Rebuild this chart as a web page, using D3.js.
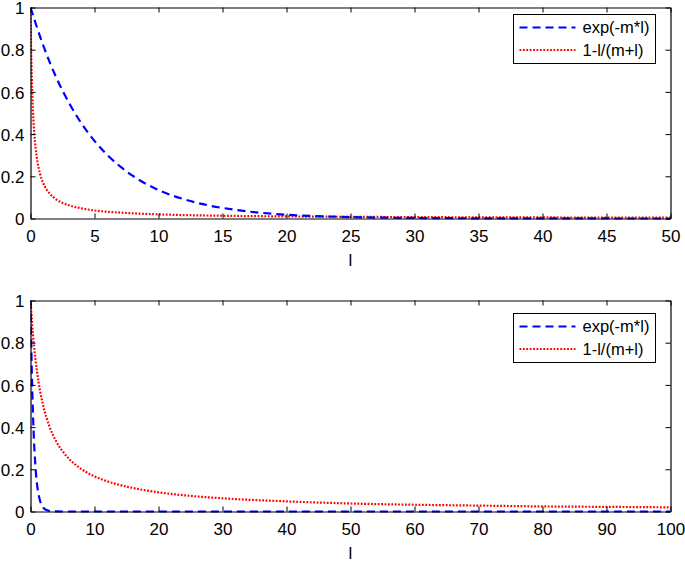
<!DOCTYPE html>
<html>
<head>
<meta charset="utf-8">
<script src="https://cdn.jsdelivr.net/npm/d3@7"></script>
<style>
  html, body { margin: 0; padding: 0; background: #fff; }
  svg { display: block; font-family: "Liberation Sans", Arial, Helvetica, sans-serif; }
</style>
</head>
<body>
<svg id="chart" width="685" height="564"></svg>
<script>
// ---------- Data ----------
const seriesNames = ["exp(-m*l)", "1-l/(m+l)"];

// Top panel (l from 0 to 50)
const topExpL = [0, 1, 2, 3, 4, 5, 6, 7, 8, 9, 10, 12, 14, 16, 18, 20, 25, 30, 35, 40, 50];
const topExpV = [1, 0.819, 0.670, 0.549, 0.449, 0.368, 0.301, 0.247, 0.202, 0.165, 0.135, 0.091, 0.061, 0.041, 0.027, 0.018, 0.0067, 0.0025, 0.0009, 0.0003, 0.00005];
const topRatL = [0, 0.05, 0.1, 0.2, 0.3, 0.5, 0.75, 1, 1.5, 2, 3, 4, 5, 7, 10, 15, 20, 30, 40, 50];
const topRatV = [1, 0.8, 0.667, 0.5, 0.4, 0.286, 0.211, 0.167, 0.118, 0.091, 0.0625, 0.048, 0.038, 0.028, 0.0196, 0.013, 0.0099, 0.0066, 0.005, 0.004];

// Bottom panel (l from 0 to 100)
const botExpL = [0, 0.1, 0.2, 0.3, 0.5, 0.75, 1, 1.25, 1.5, 2, 2.5, 3, 4, 5, 100];
const botExpV = [1, 0.819, 0.670, 0.549, 0.368, 0.223, 0.135, 0.082, 0.050, 0.018, 0.0067, 0.0025, 0.0003, 0, 0];
const botRatL = [0, 0.25, 0.5, 1, 1.5, 2, 3, 4, 5, 6, 8, 10, 12, 15, 20, 25, 30, 40, 50, 60, 70, 80, 90, 100];
const botRatV = [1, 0.889, 0.8, 0.667, 0.571, 0.5, 0.4, 0.333, 0.286, 0.25, 0.2, 0.167, 0.143, 0.118, 0.091, 0.074, 0.0625, 0.048, 0.038, 0.032, 0.028, 0.024, 0.022, 0.0196];

const topXTicks = [0, 5, 10, 15, 20, 25, 30, 35, 40, 45, 50];
const botXTicks = [0, 10, 20, 30, 40, 50, 60, 70, 80, 90, 100];
const yTicks = [0, 0.2, 0.4, 0.6, 0.8, 1];
const xLabel = "l";

// ---------- Drawing ----------
const svg = d3.select("#chart");
const FS = 17;

function panel(cfg) {
  const g = svg.append("g");
  const x = d3.scaleLinear().domain(cfg.xDomain).range([cfg.left, cfg.right]);
  const y = d3.scaleLinear().domain([0, 1]).range([cfg.bottom, cfg.top]);

  const line = d3.line().x(d => x(d[0])).y(d => y(d[1])).curve(d3.curveMonotoneX);
  const clipId = "clip" + cfg.id;
  svg.append("clipPath").attr("id", clipId).append("rect")
    .attr("x", cfg.left).attr("y", cfg.top - 2)
    .attr("width", cfg.right - cfg.left).attr("height", cfg.bottom - cfg.top + 4);

  const plot = g.append("g").attr("clip-path", `url(#${clipId})`);
  // red dotted
  plot.append("path")
    .datum(d3.zip(cfg.ratL, cfg.ratV))
    .attr("d", line).attr("fill", "none")
    .attr("stroke", "#ff0000").attr("stroke-width", 2.2)
    .attr("stroke-dasharray", "1.8,1.6");
  // blue dashed
  plot.append("path")
    .datum(d3.zip(cfg.expL, cfg.expV))
    .attr("d", line).attr("fill", "none")
    .attr("stroke", "#0000ff").attr("stroke-width", 2.2)
    .attr("stroke-dasharray", "8,5");

  // axes (box with inward ticks)
  const tl = 5;
  const axB = d3.axisBottom(x).tickValues(cfg.xTicks).tickSizeInner(-tl).tickSizeOuter(0).tickPadding(10);
  const gB = g.append("g").attr("transform", `translate(0,${cfg.bottom})`).call(axB);
  const axT = d3.axisTop(x).tickValues(cfg.xTicks).tickSizeInner(-tl).tickSizeOuter(0).tickFormat("");
  const gT = g.append("g").attr("transform", `translate(0,${cfg.top})`).call(axT);
  const axL = d3.axisLeft(y).tickValues(yTicks).tickSizeInner(-tl).tickSizeOuter(0).tickPadding(6)
    .tickFormat(d => d3.format("")(d));
  const gL = g.append("g").attr("transform", `translate(${cfg.left},0)`).call(axL);
  const axR = d3.axisRight(y).tickValues(yTicks).tickSizeInner(-tl).tickSizeOuter(0).tickFormat("");
  const gR = g.append("g").attr("transform", `translate(${cfg.right},0)`).call(axR);

  [gB, gT, gL, gR].forEach(a => {
    a.selectAll("path.domain").attr("stroke", "#000").attr("stroke-width", 1.2);
    a.selectAll(".tick line").attr("stroke", "#000").attr("stroke-width", 1);
    a.selectAll("text").attr("font-size", FS).attr("fill", "#000")
      .attr("font-family", "'Liberation Sans', Arial, sans-serif");
  });
  gB.selectAll(".tick text").attr("dy", null).attr("y", null)
    .attr("transform", `translate(0,${cfg.tickBaseline - cfg.bottom})`)
    .attr("dominant-baseline", "auto");
  gL.selectAll(".tick text").attr("x", -6).attr("dy", "0.36em");

  // x label
  g.append("text").attr("x", (cfg.left + cfg.right) / 2).attr("y", cfg.labelBaseline)
    .attr("text-anchor", "middle").attr("font-size", FS).text(xLabel);

  // legend
  const lg = g.append("g");
  lg.append("rect").attr("x", cfg.legX).attr("y", cfg.legY)
    .attr("width", 142).attr("height", 49)
    .attr("fill", "#fff").attr("stroke", "#000").attr("stroke-width", 1);
  const rows = [
    {name: seriesNames[0], color: "#0000ff", dash: "8,5"},
    {name: seriesNames[1], color: "#ff0000", dash: "1.8,1.6"}
  ];
  rows.forEach((r, i) => {
    const cy = cfg.legY + 13 + i * 22.5;
    lg.append("line").attr("x1", cfg.legX + 6).attr("x2", cfg.legX + 62)
      .attr("y1", cy).attr("y2", cy)
      .attr("stroke", r.color).attr("stroke-width", 2.2).attr("stroke-dasharray", r.dash);
    lg.append("text").attr("x", cfg.legX + 69).attr("y", cy).attr("dy", "0.36em")
      .attr("font-size", 16.5).text(r.name);
  });
}

panel({
  id: "top", xDomain: [0, 50], left: 30.5, right: 670.5, top: 7.5, bottom: 218.5,
  xTicks: topXTicks, tickBaseline: 242, labelBaseline: 266,
  expL: topExpL, expV: topExpV, ratL: topRatL, ratV: topRatV,
  legX: 513.5, legY: 14.5
});
panel({
  id: "bot", xDomain: [0, 100], left: 30.5, right: 670.5, top: 300.5, bottom: 511.5,
  xTicks: botXTicks, tickBaseline: 535, labelBaseline: 559,
  expL: botExpL, expV: botExpV, ratL: botRatL, ratV: botRatV,
  legX: 513.5, legY: 313.5
});
</script>
</body>
</html>
